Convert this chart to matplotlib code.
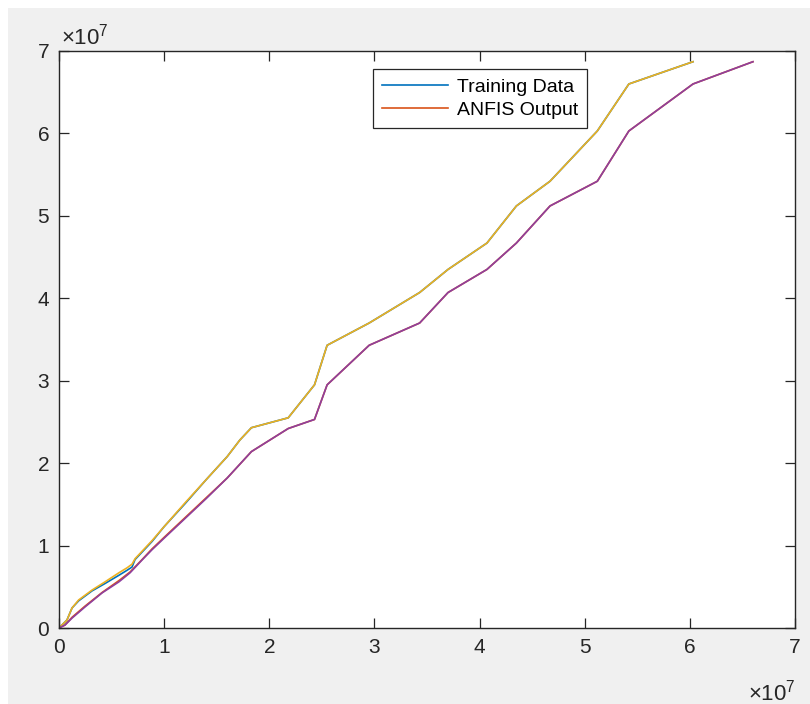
import matplotlib
matplotlib.use("Agg")
import matplotlib.pyplot as plt
from matplotlib.patches import Rectangle
from matplotlib.ticker import FuncFormatter

plt.rcParams["font.family"] = ["Liberation Sans", "DejaVu Sans"]
plt.rcParams["mathtext.fontset"] = "custom"
plt.rcParams["mathtext.rm"] = "Liberation Sans"

SCALE = 1e7

# values read in units of 1e7
train_x = [0, 0.076, 0.124, 0.187, 0.314, 0.438, 0.57, 0.647, 0.695, 0.723, 0.885, 1.0, 1.2, 1.4,
           1.6, 1.72, 1.83, 2.18, 2.43, 2.55, 2.95, 3.43, 3.70, 4.07, 4.35, 4.67, 5.12, 5.42, 6.03]
train_y = [0, 0.097, 0.243, 0.33, 0.45, 0.54, 0.64, 0.70, 0.74, 0.83, 1.05, 1.23, 1.51, 1.80,
           2.08, 2.28, 2.43, 2.55, 2.95, 3.43, 3.70, 4.07, 4.35, 4.67, 5.12, 5.42, 6.03, 6.60, 6.87]
shift_y = [0, 0.097, 0.243, 0.34, 0.46, 0.56, 0.67, 0.73, 0.775, 0.84, 1.06, 1.23, 1.52, 1.80,
           2.08, 2.28, 2.43, 2.55, 2.95, 3.43, 3.70, 4.07, 4.35, 4.67, 5.12, 5.42, 6.03, 6.60, 6.87]

anfis_x = [0, 0.057, 0.124, 0.247, 0.409, 0.57, 0.676, 0.79, 0.885, 1.0, 1.2, 1.4, 1.6, 1.83,
           2.18, 2.43, 2.55, 2.95, 3.43, 3.70, 4.07, 4.35, 4.67, 5.12, 5.42, 6.03, 6.60]
anfis_y = [0, 0.036, 0.13, 0.265, 0.43, 0.575, 0.68, 0.83, 0.96, 1.10, 1.34, 1.58, 1.82, 2.14,
           2.42, 2.53, 2.95, 3.43, 3.70, 4.07, 4.35, 4.67, 5.12, 5.42, 6.03, 6.60, 6.87]
check_y = [0, 0.036, 0.12, 0.255, 0.425, 0.56, 0.67, 0.825, 0.95, 1.09, 1.33, 1.57, 1.82, 2.14,
           2.42, 2.53, 2.95, 3.43, 3.70, 4.07, 4.35, 4.67, 5.12, 5.42, 6.03, 6.60, 6.87]

x_ticks = [0, 1, 2, 3, 4, 5, 6, 7]
y_ticks = [0, 1, 2, 3, 4, 5, 6, 7]
exp_label = r"$\times\mathregular{10^{7}}$"

W, H = 810, 704
fig = plt.figure(figsize=(W / 100, H / 100), dpi=100, facecolor="white")
fig.patches.append(Rectangle((8 / W, 0), 1 - 8 / W, 1 - 8 / H, transform=fig.transFigure,
                             facecolor="#f0f0f0", edgecolor="none", zorder=-10))

ax = fig.add_axes([59 / W, (H - 628) / H, 736 / W, 577 / H])
ax.set_facecolor("white")


def scaled(vals):
    return [v * SCALE for v in vals]


lw = 1.2
ax.plot(scaled(train_x), scaled(train_y), color="#0072BD", lw=lw, label="Training Data")
ax.plot(scaled(anfis_x), scaled(anfis_y), color="#D95319", lw=lw, label="ANFIS Output")
ax.plot(scaled(train_x), scaled(shift_y), color="#EDB120", lw=lw)
ax.plot(scaled(anfis_x), scaled(check_y), color="#8E3F9E", lw=lw)

ax.set_xlim(0, 7 * SCALE)
ax.set_ylim(0, 7 * SCALE)
ax.set_xticks(scaled(x_ticks))
ax.set_yticks(scaled(y_ticks))
ax.xaxis.set_major_formatter(FuncFormatter(lambda v, _: f"{v / SCALE:g}"))
ax.yaxis.set_major_formatter(FuncFormatter(lambda v, _: f"{v / SCALE:g}"))

ax.tick_params(direction="in", length=7, width=0.9, colors="#262626", labelsize=15,
               top=True, right=True, pad=7)
for s in ax.spines.values():
    s.set_color("#262626")
    s.set_linewidth(1.0)

# MATLAB-style exponent labels
fig.text(61 / W, 1 - 45 / H, exp_label, fontsize=16, color="#262626", ha="left", va="baseline")
fig.text(796 / W, 1 - 700 / H, exp_label, fontsize=16, color="#262626", ha="right", va="baseline")

leg = ax.legend(loc="upper left", bbox_to_anchor=(0.4266, 0.968), fontsize=14,
                frameon=True, fancybox=False, framealpha=1, edgecolor="#262626",
                handlelength=3.4, borderpad=0.45, labelspacing=0.28, handletextpad=0.45,
                borderaxespad=0)
leg.get_frame().set_linewidth(0.9)

fig.savefig("out.png", dpi=100, facecolor=fig.get_facecolor())
